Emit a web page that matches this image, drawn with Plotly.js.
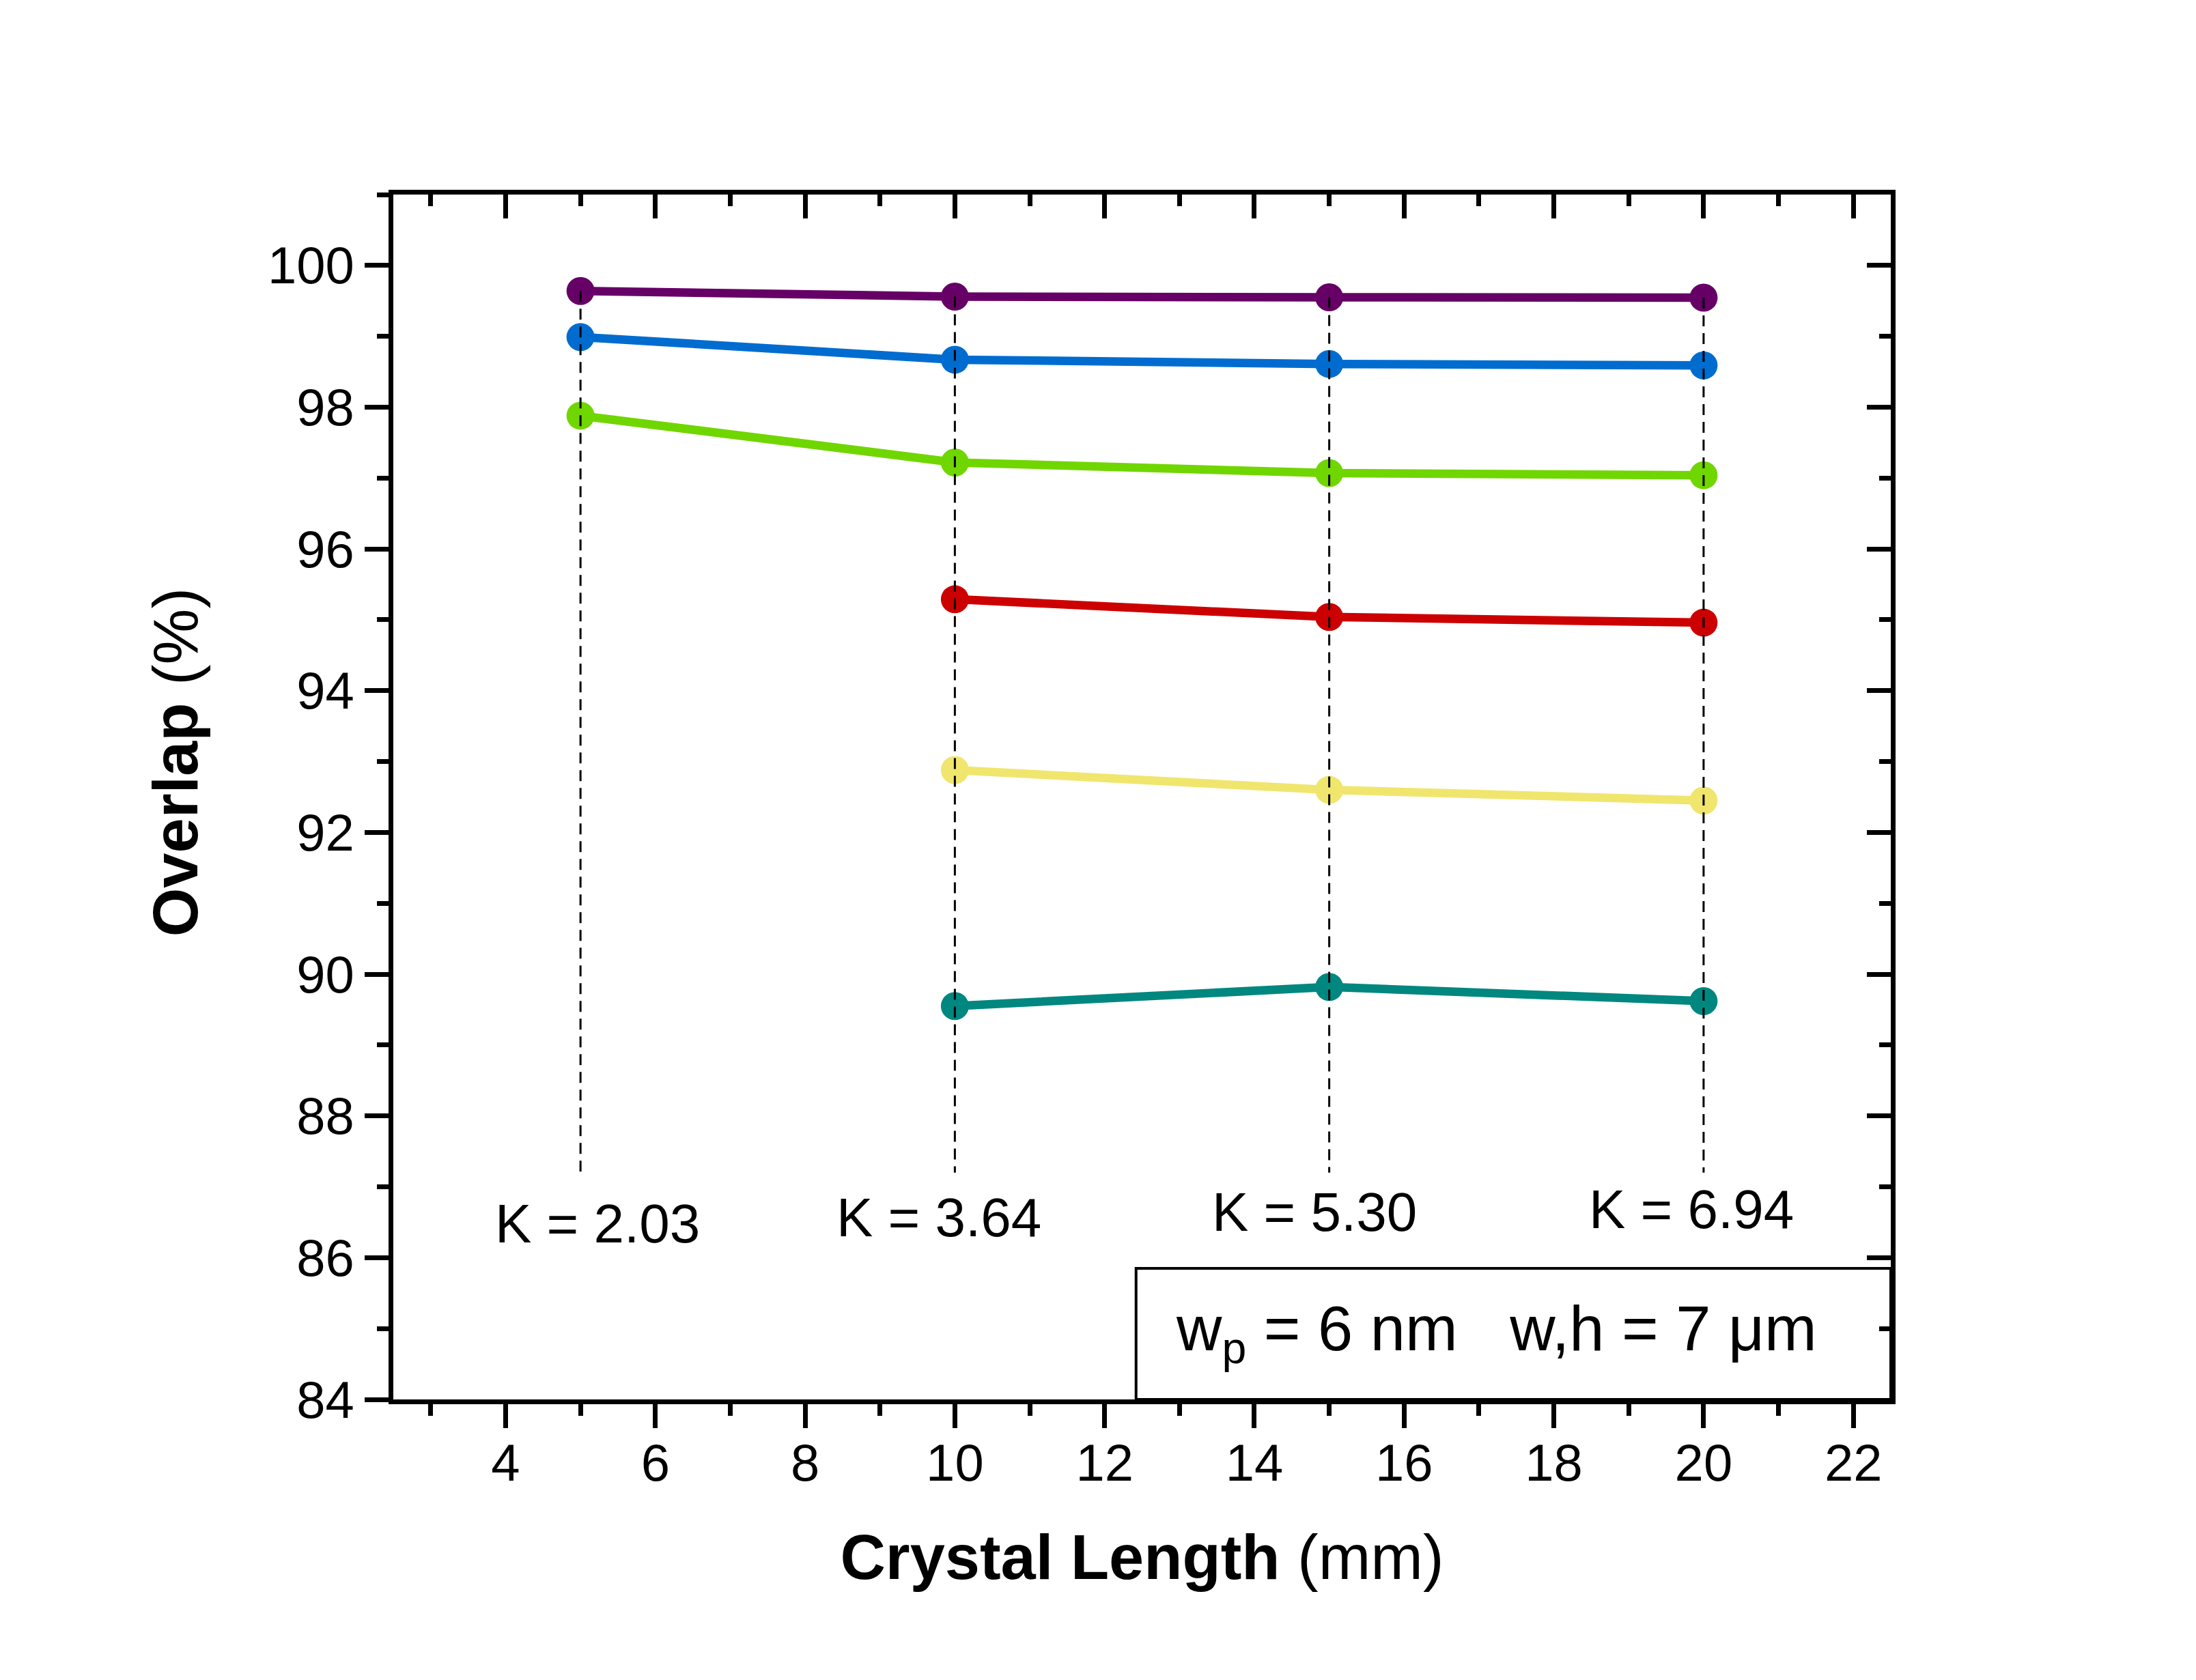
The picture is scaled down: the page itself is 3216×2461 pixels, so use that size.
<!DOCTYPE html>
<html>
<head>
<meta charset="utf-8">
<script src="https://cdn.plot.ly/plotly-3.0.1.min.js"></script>
<style>
  body { margin: 0; background: #fff; }
</style>
</head>
<body>
<div id="my_plot"></div>
<script>
// crystal lengths in mm
crystal_length = [5, 10, 15, 20];
crystal_length_long = [10, 15, 20];

// overlap in %, one array per curve (top to bottom)
overlap_purple = [99.64, 99.56, 99.55, 99.545];
overlap_blue = [98.99, 98.67, 98.61, 98.59];
overlap_green = [97.88, 97.22, 97.07, 97.04];
overlap_red = [95.29, 95.04, 94.96];
overlap_yellow = [92.88, 92.60, 92.45];
overlap_teal = [89.55, 89.82, 89.62];

k_labels = ["K = 2.03", "K = 3.64", "K = 5.30", "K = 6.94"];
k_line_bottom = 87.2; // dashed guide lines end here

x_ticks = [4, 6, 8, 10, 12, 14, 16, 18, 20, 22];
y_ticks = [84, 86, 88, 90, 92, 94, 96, 98, 100];

var FONT = "Liberation Sans, Arial, sans-serif";

function curve(x, y, color) {
    return {
        type: "scatter",
        mode: "lines+markers",
        x: x,
        y: y,
        line: { color: color, width: 12.5 },
        marker: { color: color, size: 41 },
        showlegend: false,
        hoverinfo: "skip",
    };
}

function make_plot() {
    // dashed guide lines, one per crystal length, from the top curve down
    var dash_x = [];
    var dash_y = [];
    for (var i = 0; i < crystal_length.length; i++) {
        dash_x.push(crystal_length[i], crystal_length[i], null);
        dash_y.push(overlap_purple[i], k_line_bottom, null);
    }

    var data = [
        curve(crystal_length, overlap_purple, "#660066"),
        curve(crystal_length, overlap_blue, "#006CCF"),
        curve(crystal_length, overlap_green, "#70D600"),
        curve(crystal_length_long, overlap_red, "#CC0000"),
        curve(crystal_length_long, overlap_yellow, "#F0E66E"),
        curve(crystal_length_long, overlap_teal, "#008780"),
        {
            type: "scatter",
            mode: "lines",
            x: dash_x,
            y: dash_y,
            line: { color: "black", width: 3, dash: "16px,10px" },
            showlegend: false,
            hoverinfo: "skip",
        },
        // carries the inward mirror ticks on top and right
        {
            type: "scatter",
            mode: "markers",
            x: [],
            y: [],
            xaxis: "x2",
            yaxis: "y2",
            showlegend: false,
        },
    ];

    // label placement in data units
    var k_pos = [
        [5.23, 86.48],
        [9.79, 86.57],
        [14.80, 86.64],
        [19.84, 86.68],
    ];
    var annotations = [];
    for (var i = 0; i < k_labels.length; i++) {
        annotations.push({
            x: k_pos[i][0],
            y: k_pos[i][1],
            xref: "x",
            yref: "y",
            text: k_labels[i],
            showarrow: false,
            font: { family: FONT, size: 80, color: "black" },
        });
    }
    annotations.push({
        x: 17.23,
        y: 84.93,
        xref: "x",
        yref: "y",
        text: "w<sub>p</sub> = 6 nm\u00a0\u00a0\u00a0w,h = 7 \u03bcm",
        showarrow: false,
        font: { family: FONT, size: 92, color: "black" },
    });
    // y axis title, sits a little above the plot centre as in the original
    annotations.push({
        x: -0.1455,
        y: 0.529,
        xref: "paper",
        yref: "paper",
        xanchor: "center",
        yanchor: "middle",
        text: "<b>Overlap</b> (%)",
        textangle: -90,
        showarrow: false,
        font: { family: FONT, size: 92, color: "black" },
    });

    var x_range = [2.5, 22.5];
    var y_range = [84, 101];

    var layout = {
        width: 3216,
        height: 2461,
        margin: { l: 576, r: 447, t: 285, b: 411 },
        paper_bgcolor: "white",
        plot_bgcolor: "white",
        hovermode: false,
        font: { family: FONT, color: "black" },
        xaxis: {
            range: x_range,
            tickvals: x_ticks,
            ticks: "outside",
            ticklen: 35,
            tickwidth: 7,
            tickcolor: "black",
            ticklabelstandoff: -14,
            minor: { dtick: 1, tick0: 0, ticks: "outside", ticklen: 17, tickwidth: 7, tickcolor: "black", showgrid: false },
            showline: true,
            mirror: true,
            linewidth: 7,
            linecolor: "black",
            showgrid: false,
            zeroline: false,
            tickfont: { family: FONT, size: 76, color: "black" },
            title: {
                text: "<b>Crystal Length</b> (mm)",
                font: { family: FONT, size: 92, color: "black" },
                standoff: 67,
            },
        },
        yaxis: {
            range: y_range,
            tickvals: y_ticks,
            ticks: "outside",
            ticklen: 35,
            tickwidth: 7,
            tickcolor: "black",
            minor: { dtick: 1, tick0: 0, ticks: "outside", ticklen: 17, tickwidth: 7, tickcolor: "black", showgrid: false },
            showline: true,
            mirror: true,
            linewidth: 7,
            linecolor: "black",
            showgrid: false,
            zeroline: false,
            tickfont: { family: FONT, size: 76, color: "black" },
        },
        xaxis2: {
            overlaying: "x",
            side: "top",
            anchor: "y2",
            range: x_range,
            tickvals: x_ticks,
            ticks: "inside",
            ticklen: 35,
            tickwidth: 7,
            tickcolor: "black",
            minor: { dtick: 1, tick0: 0, ticks: "inside", ticklen: 17, tickwidth: 7, tickcolor: "black", showgrid: false },
            showticklabels: false,
            showline: false,
            showgrid: false,
            zeroline: false,
        },
        yaxis2: {
            overlaying: "y",
            side: "right",
            anchor: "x2",
            range: y_range,
            tickvals: y_ticks,
            ticks: "inside",
            ticklen: 35,
            tickwidth: 7,
            tickcolor: "black",
            minor: { dtick: 1, tick0: 0, ticks: "inside", ticklen: 17, tickwidth: 7, tickcolor: "black", showgrid: false },
            showticklabels: false,
            showline: false,
            showgrid: false,
            zeroline: false,
        },
        shapes: [
            {
                type: "rect",
                xref: "x",
                yref: "y",
                x0: 12.42,
                x1: 22.5,
                y0: 84,
                y1: 85.85,
                line: { color: "black", width: 4 },
                fillcolor: "rgba(0,0,0,0)",
            },
        ],
        annotations: annotations,
    };

    Plotly.newPlot("my_plot", data, layout, { staticPlot: true, displayModeBar: false });
}

make_plot();
</script>
</body>
</html>
